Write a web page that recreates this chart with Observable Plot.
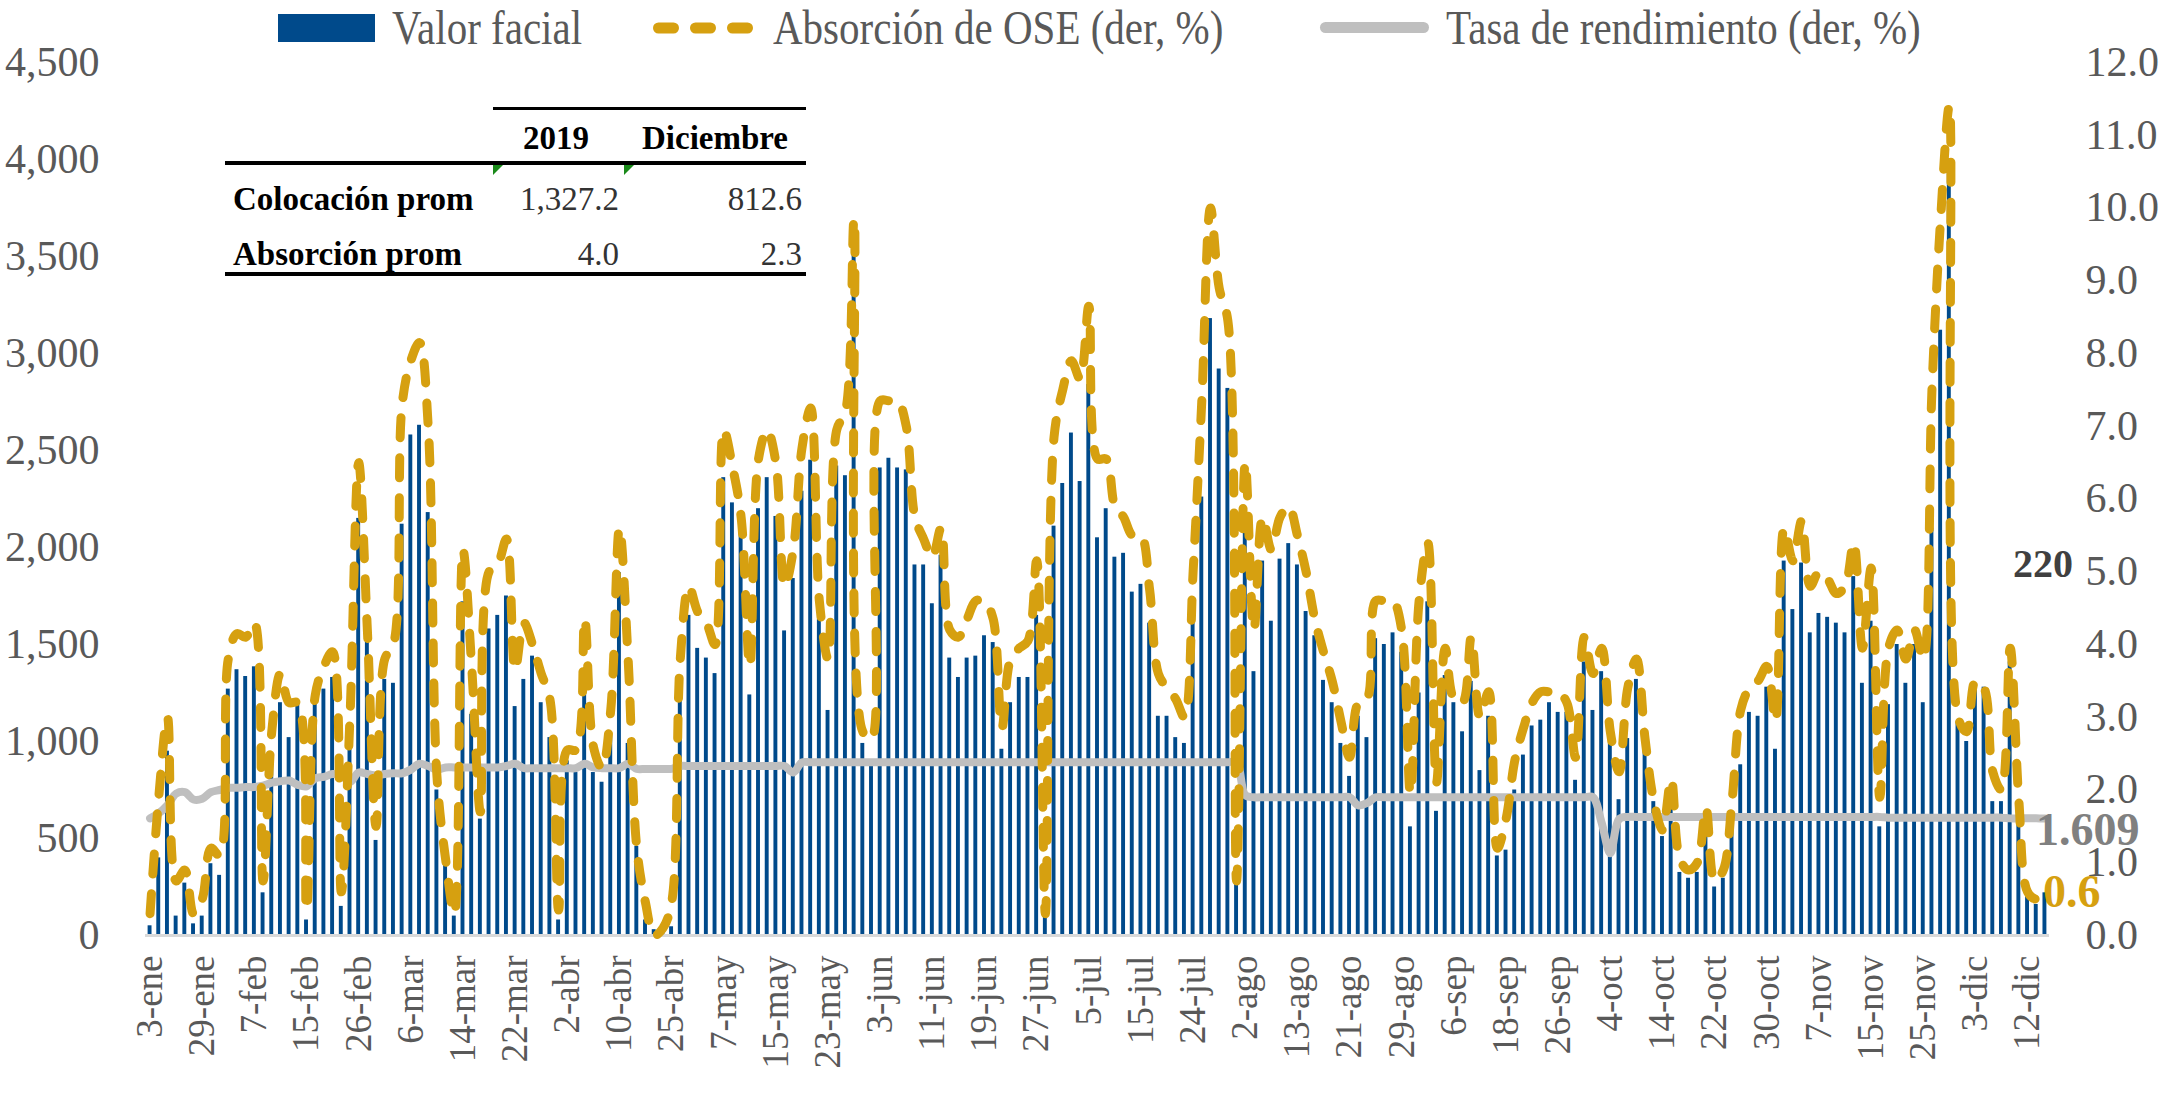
<!DOCTYPE html>
<html>
<head>
<meta charset="utf-8">
<script src="https://cdn.jsdelivr.net/npm/d3@7"></script>
<script src="https://cdn.jsdelivr.net/npm/@observablehq/plot@0.6"></script>
<style>
html, body { margin: 0; padding: 0; background: #fff; }
#wrap { position: relative; width: 2179px; height: 1096px; overflow: hidden; font-family: "Liberation Serif", serif; }
#chart { position: absolute; left: 0; top: 0; }
.lgtxt { position: absolute; font-size: 41px; line-height: 41px; color: #595959; white-space: nowrap; transform: scaleY(1.18); transform-origin: left center; }
.sw { position: absolute; }
.tb { position: absolute; font-size: 33px; line-height: 33px; white-space: nowrap; }
.tb.b { font-weight: bold; color: #000; }
.tb.v { color: #333; text-align: right; }
.hl { position: absolute; background: #000; }
.tri { position: absolute; width: 0; height: 0; border-top: 10px solid #1a8a1a; border-right: 10px solid transparent; }
</style>
</head>
<body>
<div id="wrap">
  <div id="chart"></div>
</div>
<script>
// ---- data ----
const tickLabels = ["3-ene","29-ene","7-feb","15-feb","26-feb","6-mar","14-mar","22-mar","2-abr","10-abr","25-abr","7-may","15-may","23-may","3-jun","11-jun","19-jun","27-jun","5-jul","15-jul","24-jul","2-ago","13-ago","21-ago","29-ago","6-sep","18-sep","26-sep","4-oct","14-oct","22-oct","30-oct","7-nov","15-nov","25-nov","3-dic","12-dic"];

// Valor facial (millones), one value per auction
const valorFacial = [
  50,400,950,100,270,60,100,370,310,1270,
  1370,1335,1385,220,890,1200,1020,1200,80,1265,
  1270,1330,150,970,2150,1620,490,1320,1300,2120,
  2580,2630,2180,750,400,100,1720,1140,600,1580,
  1650,1750,1180,1320,1440,1200,1020,80,900,840,
  1340,840,790,1030,1870,990,460,80,30,30,
  45,1230,1650,1480,1430,1350,2360,2230,2130,1240,
  2200,2360,2160,1570,1840,2290,2450,1630,1160,2420,
  2370,3620,990,900,2410,2460,2410,2400,1910,1910,
  1710,1960,1430,1330,1430,1440,1545,1510,960,1200,
  1330,1330,1650,100,2110,2330,2590,2340,2840,2050,
  2200,1950,1970,1770,1810,1610,1130,1130,1020,990,
  1640,2260,3180,2920,2820,270,2200,1360,1930,1620,
  1940,2020,1910,1670,1545,1315,1200,990,820,1130,
  1020,1530,1500,1560,1460,560,1250,1720,640,1340,
  1200,1050,1310,850,1130,410,440,750,930,1080,
  1110,1200,1150,1150,800,1410,1160,1360,1030,700,
  1015,1320,950,690,510,720,325,295,325,600,
  250,295,545,880,1150,1130,1280,960,1930,1680,
  1920,1560,1660,1640,1610,1560,1850,1300,1620,560,
  1190,1500,1300,1500,1200,2100,3120,3970,1100,1000,
  1280,1280,690,690,1410,690,200,160,220
];

// Absorción de OSE (der, %)
const absorcion = [
  0.3,1.9,3.0,0.75,0.9,0.3,0.5,1.2,1.1,3.8,
  4.15,4.1,4.3,0.75,2.8,3.6,3.2,3.2,0.35,3.3,
  3.7,3.9,0.6,3.0,6.5,4.2,1.5,3.8,4.0,7.3,
  7.9,8.15,7.0,2.2,1.05,0.3,5.3,3.7,1.7,5.0,
  5.1,5.45,3.65,4.3,4.0,3.6,3.25,0.35,2.55,2.55,
  4.35,2.6,2.3,3.1,5.6,3.8,1.2,0.45,0.0,0.1,
  0.45,3.8,4.8,4.45,4.3,4.0,6.95,6.45,5.75,3.7,
  6.55,6.95,6.5,4.8,5.3,6.7,7.25,4.6,3.8,6.95,
  7.2,9.85,2.8,2.7,7.35,7.35,7.35,7.0,5.75,5.45,
  5.2,5.6,4.2,4.1,4.35,4.6,4.6,4.35,2.85,3.8,
  3.95,4.05,5.15,0.3,6.85,7.5,7.9,7.65,8.65,6.55,
  6.55,5.9,5.75,5.5,5.5,4.75,3.6,3.4,3.25,3.0,
  5.0,7.35,10.0,8.9,8.45,0.75,6.5,4.2,5.75,5.3,
  5.75,5.9,5.5,5.0,4.35,3.9,3.5,2.95,2.45,3.2,
  3.25,4.6,4.6,4.6,4.2,1.95,4.6,5.4,2.1,3.95,
  3.25,3.2,4.1,3.0,3.35,1.2,1.6,2.4,2.85,3.2,
  3.35,3.35,3.35,3.2,2.45,4.1,3.6,3.95,2.8,2.25,
  3.4,3.8,2.7,1.85,1.45,2.15,1.05,0.9,1.0,1.75,
  0.75,0.9,1.85,3.1,3.4,3.5,3.7,2.95,5.6,5.15,
  5.7,4.8,5.0,4.9,4.7,4.8,5.4,3.95,5.05,1.9,
  3.95,4.2,3.8,4.2,3.8,7.5,9.85,11.4,3.0,2.8,
  3.5,3.4,2.25,2.0,3.95,1.85,0.6,0.5,0.6
];

// Tasa de rendimiento (der, %)
const tasa = [
  1.61,1.68,1.79,1.95,1.97,1.87,1.88,1.97,2.00,2.03,
  2.03,2.04,2.04,2.06,2.10,2.12,2.13,2.07,2.05,2.16,
  2.18,2.22,2.20,2.11,2.24,2.22,2.20,2.22,2.23,2.23,
  2.28,2.36,2.33,2.28,2.31,2.31,2.31,2.31,2.31,2.31,
  2.31,2.33,2.36,2.30,2.30,2.30,2.30,2.30,2.30,2.30,
  2.36,2.31,2.30,2.30,2.30,2.36,2.29,2.29,2.29,2.29,
  2.29,2.33,2.33,2.33,2.33,2.33,2.33,2.33,2.33,2.33,
  2.33,2.33,2.33,2.33,2.24,2.38,2.38,2.38,2.38,2.38,
  2.38,2.38,2.38,2.38,2.38,2.38,2.38,2.38,2.38,2.38,
  2.38,2.38,2.38,2.38,2.38,2.38,2.38,2.38,2.38,2.38,
  2.38,2.38,2.38,2.38,2.38,2.38,2.38,2.38,2.38,2.38,
  2.38,2.38,2.38,2.38,2.38,2.38,2.38,2.38,2.38,2.38,
  2.38,2.38,2.38,2.38,2.38,2.38,1.93,1.90,1.90,1.90,
  1.90,1.90,1.90,1.90,1.90,1.90,1.90,1.90,1.90,1.79,
  1.82,1.90,1.90,1.90,1.90,1.90,1.90,1.90,1.90,1.90,
  1.90,1.90,1.90,1.90,1.90,1.90,1.90,1.90,1.90,1.90,
  1.90,1.90,1.90,1.90,1.90,1.90,1.90,1.55,1.13,1.60,
  1.63,1.63,1.63,1.63,1.63,1.63,1.63,1.63,1.63,1.63,
  1.63,1.63,1.63,1.63,1.63,1.63,1.63,1.63,1.63,1.63,
  1.63,1.63,1.63,1.63,1.63,1.63,1.63,1.63,1.63,1.63,
  1.62,1.62,1.62,1.62,1.62,1.62,1.62,1.62,1.62,1.62,
  1.62,1.62,1.62,1.62,1.61,1.61,1.61,1.61,1.609
];

const leftTicks = [0,500,1000,1500,2000,2500,3000,3500,4000,4500];
const rightTicks = [0,1,2,3,4,5,6,7,8,9,10,11,12];

const tableHead = ["2019", "Diciembre"];
const tableRows = [
  {label: "Colocación prom", v2019: "1,327.2", vDic: "812.6"},
  {label: "Absorción prom", v2019: "4.0", vDic: "2.3"}
];

const legendItems = ["Valor facial", "Absorción de OSE (der, %)", "Tasa de rendimiento (der, %)"];

// ---- chart ----
const idx = valorFacial.map((_, i) => i);
const every = 6;
const tickIdx = tickLabels.map((_, k) => k * every);
const k = 4500 / 12; // right axis (%) -> left axis units
const last = idx[idx.length - 1];

const BLUE = "#004a8b", GOLD = "#d6a010", GREY = "#bfbfbf";

const chart = Plot.plot({
  width: 2179,
  height: 1096,
  marginLeft: 145,
  marginRight: 130,
  marginTop: 62,
  marginBottom: 161,
  style: {fontFamily: "Liberation Serif, serif", fontSize: "40px", color: "#595959", background: "#fff", overflow: "visible"},
  x: {type: "band", domain: idx, paddingInner: 0.55, paddingOuter: 0.3, round: false},
  y: {domain: [0, 4500]},
  marks: [
    Plot.barY(idx, {x: d => d, y: d => valorFacial[d], fill: BLUE}),
    Plot.ruleY([0], {stroke: "#d9d9d9", strokeWidth: 3}),
    Plot.line(idx, {x: d => d, y: d => tasa[d] * k, curve: "catmull-rom", stroke: GREY, strokeWidth: 8, strokeLinejoin: "round", strokeLinecap: "round"}),
    Plot.line(idx, {x: d => d, y: d => absorcion[d] * k, curve: "catmull-rom", stroke: GOLD, strokeWidth: 9, strokeDasharray: "20 20", strokeLinecap: "round", strokeLinejoin: "round"}),
    Plot.axisY({anchor: "left", ticks: leftTicks, tickFormat: d3.format(","), tickSize: 0, tickPadding: 46, label: null, fontSize: 42}),
    Plot.axisY({anchor: "right", ticks: rightTicks.map(v => v * k), tickFormat: d => (d / k).toFixed(1), tickSize: 0, tickPadding: 36, label: null, fontSize: 42}),
    Plot.axisX({ticks: tickIdx, tickFormat: i => tickLabels[i / every], tickRotate: -90, tickSize: 0, tickPadding: 20, label: null, fontSize: 37}),
    Plot.text([last], {x: d => d, y: d => valorFacial[d], text: d => d3.format(",")(valorFacial[d]), dx: -2, dy: -329, fill: "#404040", fontWeight: "bold", fontSize: 40, textAnchor: "middle"}),
    Plot.text([last], {x: d => d, y: d => tasa[d] * k, text: d => d3.format(".3f")(tasa[d]), dx: -9, dy: 12, fill: "#808080", fontWeight: "bold", fontSize: 46, textAnchor: "start"}),
    Plot.text([last], {x: d => d, y: d => absorcion[d] * k, text: d => d3.format(".1f")(absorcion[d]), dx: -2, dy: 0, fill: GOLD, fontWeight: "bold", fontSize: 46, textAnchor: "start"})
  ]
});
document.getElementById("chart").appendChild(chart);

// ---- legend ----
const wrap = document.getElementById("wrap");
function add(html) { const t = document.createElement("template"); t.innerHTML = html.trim(); const n = t.content.firstChild; wrap.appendChild(n); return n; }
add(`<div class="sw" style="left:278px;top:14px;width:97px;height:28px;background:${BLUE}"></div>`);
add(`<div class="lgtxt" style="left:392px;top:8px">${legendItems[0]}</div>`);
add(`<svg class="sw" style="left:653px;top:18px" width="100" height="20"><line x1="5.5" y1="10" x2="94.5" y2="10" stroke="${GOLD}" stroke-width="11" stroke-linecap="round" stroke-dasharray="15 22"/></svg>`);
add(`<div class="lgtxt" style="left:773px;top:8px">${legendItems[1]}</div>`);
add(`<div class="sw" style="left:1320px;top:22px;width:109px;height:11px;border-radius:6px;background:${GREY}"></div>`);
add(`<div class="lgtxt" style="left:1446px;top:8px">${legendItems[2]}</div>`);

// ---- table ----
add(`<div class="hl" style="left:493px;top:107px;width:313px;height:3px"></div>`);
add(`<div class="tb b" style="left:520px;top:122px;width:72px;text-align:center">${tableHead[0]}</div>`);
add(`<div class="tb b" style="left:630px;top:122px;width:170px;text-align:center">${tableHead[1]}</div>`);
add(`<div class="hl" style="left:225px;top:161px;width:581px;height:4px"></div>`);
add(`<div class="tri" style="left:493px;top:165px"></div>`);
add(`<div class="tri" style="left:624px;top:165px"></div>`);
tableRows.forEach((r, j) => {
  const top = 183 + j * 55;
  add(`<div class="tb b" style="left:233px;top:${top}px">${r.label}</div>`);
  add(`<div class="tb v" style="left:480px;top:${top}px;width:139px">${r.v2019}</div>`);
  add(`<div class="tb v" style="left:640px;top:${top}px;width:162px">${r.vDic}</div>`);
});
add(`<div class="hl" style="left:225px;top:272px;width:581px;height:4px"></div>`);
</script>
</body>
</html>
